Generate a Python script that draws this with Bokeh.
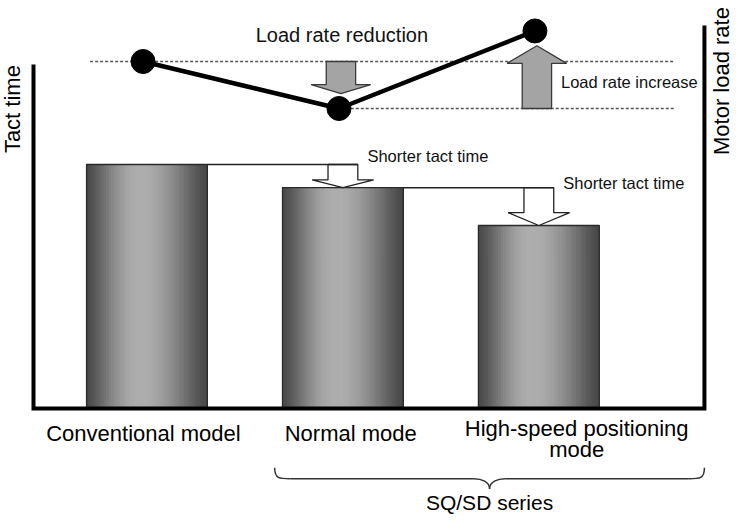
import numpy as np
from bokeh.plotting import figure
from bokeh.models import Range1d
from bokeh.core.properties import value
from bokeh.embed import file_html
from bokeh.resources import INLINE

# ---------------- data ----------------
categories = ["Conventional model", "Normal mode", "High-speed positioning\nmode"]
tact_time = [100.0, 90.5, 75.0]          # relative tact time (bars)
motor_load_rate = [100.0, 80.0, 113.0]   # relative motor load rate (dots)
series_members = [1, 2]                  # categories that belong to the group
group_label = "SQ/SD series"
y_title_left = "Tact time"
y_title_right = "Motor load rate"
load_change_labels = ["Load rate reduction", "Load rate increase"]
tact_change_label = "Shorter tact time"

# ---------------- layout / style ----------------
W, H = 736, 516
PX_PER_X = 195.95
X0 = -0.7474
X1 = X0 + W / PX_PER_X
Y0, Y1 = -44.26, 167.21          # tact-time units
L0, L1 = -93.62, 125.96          # motor-load-rate units
FONT = value("Liberation Sans")

xs = np.arange(len(categories), dtype=float)
BAR_W = 0.6165
AX_L, AX_R = -0.579, 2.845
AX_L_TOP, AX_R_TOP = 141.0, 157.0

p = figure(width=W, height=H, x_range=Range1d(X0, X1), y_range=Range1d(Y0, Y1),
           x_axis_type=None, y_axis_type=None, output_backend="svg",
           toolbar_location=None, min_border=0)
p.extra_y_ranges = {"load": Range1d(L0, L1)}
p.outline_line_color = None
p.background_fill_color = "white"
p.border_fill_color = "white"

# ---- bars with cylindrical shading ----
N = 48
t = (np.arange(N) + 0.5) / N
s = np.where(t < 0.45, t / 0.45, (1 - t) / 0.55)
shade = 0x48 + (0xae - 0x48) * np.sin(s * np.pi / 2) ** 1.3
cols = ["#%02x%02x%02x" % (int(v), int(v), int(v)) for v in shade]
bl, br, bt, bc = [], [], [], []
for x, h in zip(xs, tact_time):
    edges = x - BAR_W / 2 + np.arange(N + 1) * BAR_W / N
    bl += list(edges[:-1]); br += list(edges[1:]); bt += [h] * N; bc += cols
p.quad(left=bl, right=br, top=bt, bottom=0, fill_color=bc, line_color=bc, line_width=1)
p.quad(left=xs - BAR_W / 2, right=xs + BAR_W / 2, top=tact_time, bottom=0,
       fill_color=None, line_color="#2a2a2a", line_width=1.3)

# ---- tact-time reduction arrows (white) ----
def arrow_poly(cx, y0, y1, shw, hhw, hfrac):
    hl = hfrac * (y1 - y0)
    yh = y1 - hl
    return ([cx - shw, cx - shw, cx - hhw, cx, cx + hhw, cx + shw, cx + shw],
            [y0, yh, yh, y1, yh, yh, y0])

ta_x, ta_y = [], []
hx0, hx1, hy = [], [], []
for i in range(len(tact_time) - 1):
    cx = xs[i + 1]
    ax_, ay_ = arrow_poly(cx, tact_time[i], tact_time[i + 1], 0.076, 0.157, 0.34)
    ta_x.append(ax_); ta_y.append(ay_)
    hx0.append(xs[i] + BAR_W / 2); hx1.append(cx + 0.076); hy.append(tact_time[i])
p.patches(ta_x, ta_y, fill_color="white", line_color="#222222", line_width=1.3)
p.segment(x0=hx0, y0=hy, x1=hx1, y1=hy, line_color="#222222", line_width=1.5)

tl_dy = [3.5, 1.9]
p.text(x=[xs[i + 1] + 0.125 for i in range(len(tact_time) - 1)],
       y=[tact_time[i] + tl_dy[i] for i in range(len(tact_time) - 1)],
       text=[tact_change_label] * (len(tact_time) - 1),
       text_font=FONT, text_font_size="16.5px", text_align="left",
       text_baseline="alphabetic", text_color="#111111")

# ---- load-rate reference dotted lines ----
DOT_END = 2.689
p.segment(x0=[xs[0] - 0.29, xs[1] + 0.04], y0=motor_load_rate[:2],
          x1=[DOT_END, DOT_END], y1=motor_load_rate[:2],
          line_color="#555555", line_width=1.5, line_dash="3 2", y_range_name="load")

# ---- load-rate change arrows (grey) ----
GAP = 6.3
la_x, la_y = [], []
for i in range(len(motor_load_rate) - 1):
    a, b = motor_load_rate[i], motor_load_rate[i + 1]
    end = b + GAP if b < a else b - GAP
    ax_, ay_ = arrow_poly(xs[i + 1] - 0.01, a, end, 0.075, 0.152, 0.28)
    la_x.append(ax_); la_y.append(ay_)
p.patches(la_x, la_y, fill_color="#a4a4a4", line_color="#3a3a3a", line_width=1.3,
          y_range_name="load")

# ---- load-rate line and points ----
px_ = xs - 0.02
p.line(px_, motor_load_rate, line_color="black", line_width=4.5, y_range_name="load")
p.scatter(px_, motor_load_rate, size=24, fill_color="black", line_color="black",
          y_range_name="load")

p.text(x=[xs[1] - 0.005], y=[motor_load_rate[0] + 11.1], text=[load_change_labels[0]],
       text_font=FONT, text_font_size="20px", text_align="center",
       text_baseline="alphabetic", text_color="#111111", y_range_name="load")
p.text(x=[xs[2] + 0.113], y=[motor_load_rate[1] + 11.3], text=[load_change_labels[1]],
       text_font=FONT, text_font_size="16.5px", text_align="left",
       text_baseline="alphabetic", text_color="#111111", y_range_name="load")

# ---- axes frame ----
p.multi_line(xs=[[AX_L, AX_L, AX_R, AX_R]], ys=[[AX_L_TOP, 0, 0, AX_R_TOP]],
             line_color="black", line_width=4, line_join="miter")

p.text(x=[-0.6862], y=[122.7], text=[y_title_left], angle=np.pi / 2,
       text_font=FONT, text_font_size="22px", text_align="center",
       text_baseline="alphabetic", text_color="black")
p.text(x=[2.9321], y=[134.2], text=[y_title_right], angle=np.pi / 2,
       text_font=FONT, text_font_size="22px", text_align="center",
       text_baseline="alphabetic", text_color="black")

# ---- category labels ----
label_dx = [-0.018, 0.04, 0.193]
lab_x, lab_y, lab_t = [], [], []
for i, lab in enumerate(categories):
    lines = lab.split("\n")
    base = -10.25 + (len(lines) - 1) * 2.05
    for k, ln in enumerate(lines):
        lab_x.append(xs[i] + label_dx[i]); lab_y.append(base - 8.4 * k); lab_t.append(ln)
p.text(x=lab_x, y=lab_y, text=lab_t, text_font=FONT, text_font_size="22px",
       text_align="center", text_baseline="alphabetic", text_color="black")

# ---- brace under the SQ/SD series ----
xa = xs[series_members[0]] - BAR_W / 2 - 0.04
xb = AX_R
xt = (xa + xb) / 2
ye, yl, yt = -24.3, -28.8, -33.0
d = 0.08
p.bezier(x0=[xa, xt - d, xt, xb - d], y0=[ye, yl, yt, yl],
         x1=[xa + d, xt, xt + d, xb], y1=[yl, yt, yl, ye],
         cx0=[xa, xt - 0.5 * d, xt, xb - 0.3 * d], cy0=[yl, yl, yl + 0.3 * (yt - yl), yl],
         cx1=[xa + 0.3 * d, xt, xt + 0.5 * d, xb], cy1=[yl, yl + 0.3 * (yt - yl), yl, yl],
         line_color="#333333", line_width=1.5)
p.segment(x0=[xa + d, xt + d], y0=[yl, yl], x1=[xt - d, xb - d], y1=[yl, yl],
          line_color="#333333", line_width=1.5)
p.text(x=[xt], y=[-38.6], text=[group_label], text_font=FONT, text_font_size="21px",
       text_align="center", text_baseline="alphabetic", text_color="black")

open("out.html", "w").write(file_html(p, INLINE))
